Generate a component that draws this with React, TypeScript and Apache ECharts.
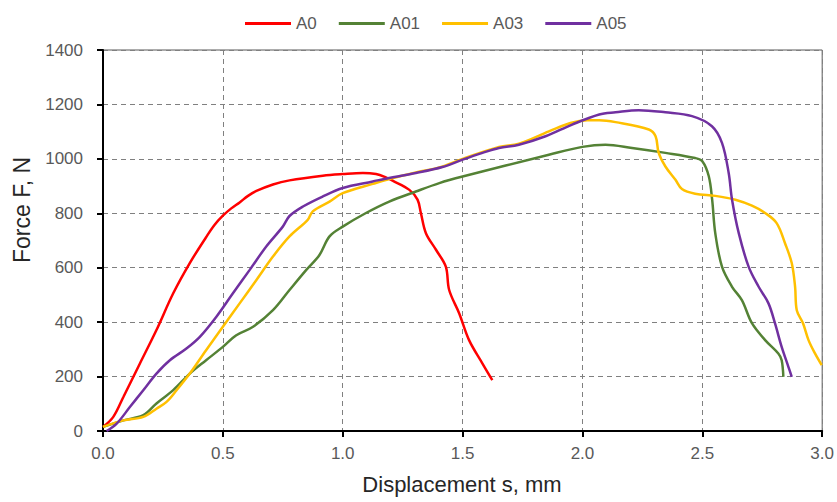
import React, { useEffect, useRef } from "react";
import * as echarts from "echarts";

const seriesNames = ["A0", "A01", "A03", "A05"];
const seriesColors = ["#FF0000", "#548235", "#FFC000", "#7030A0"];

const a0X = [0, 0.043, 0.085, 0.154, 0.223, 0.293, 0.362, 0.43, 0.465, 0.5, 0.535, 0.57, 0.605, 0.64, 0.709, 0.778, 0.917, 1.0, 1.084, 1.139, 1.18, 1.208, 1.278, 1.312, 1.326, 1.347, 1.389, 1.43, 1.444, 1.486, 1.527, 1.583, 1.624];
const a0F = [15, 52, 125, 248, 371, 506, 617, 712, 757, 791, 818, 840, 864, 882, 906, 921, 938, 944, 948, 944, 932, 920, 886, 850, 801, 727, 666, 604, 518, 432, 334, 248, 187];

const a01X = [0, 0.085, 0.168, 0.223, 0.293, 0.362, 0.43, 0.5, 0.556, 0.626, 0.709, 0.778, 0.848, 0.903, 0.945, 1.0, 1.097, 1.194, 1.305, 1.403, 1.5, 1.86, 2.0, 2.096, 2.207, 2.346, 2.47, 2.5, 2.527, 2.541, 2.554, 2.582, 2.624, 2.665, 2.707, 2.762, 2.817, 2.831, 2.838];
const a01F = [15, 39, 58, 101, 150, 211, 260, 309, 352, 383, 444, 518, 592, 647, 715, 751, 801, 843, 880, 911, 935, 1015, 1044, 1052, 1040, 1022, 1003, 991, 936, 850, 727, 604, 530, 481, 396, 334, 285, 260, 199];

const a03X = [0, 0.085, 0.168, 0.223, 0.265, 0.307, 0.362, 0.43, 0.5, 0.57, 0.64, 0.709, 0.778, 0.854, 0.875, 0.945, 1.0, 1.125, 1.194, 1.305, 1.403, 1.5, 1.652, 1.735, 1.86, 1.95, 2.02, 2.07, 2.138, 2.277, 2.305, 2.318, 2.346, 2.388, 2.415, 2.47, 2.554, 2.638, 2.707, 2.762, 2.81, 2.845, 2.873, 2.887, 2.894, 2.92, 2.943, 2.97, 2.998];
const a03F = [15, 39, 52, 82, 107, 150, 211, 297, 383, 469, 555, 641, 715, 776, 807, 843, 874, 908, 926, 950, 968, 1000, 1044, 1056, 1101, 1132, 1142, 1142, 1135, 1108, 1083, 1022, 972, 923, 889, 872, 864, 850, 828, 801, 764, 690, 617, 530, 444, 396, 334, 285, 242];

const a05X = [0.015, 0.057, 0.112, 0.168, 0.223, 0.279, 0.348, 0.404, 0.473, 0.542, 0.612, 0.681, 0.75, 0.778, 0.834, 0.917, 1.0, 1.125, 1.194, 1.305, 1.416, 1.5, 1.583, 1.652, 1.735, 1.846, 1.957, 2.07, 2.138, 2.235, 2.346, 2.457, 2.54, 2.582, 2.61, 2.624, 2.652, 2.693, 2.735, 2.776, 2.803, 2.831, 2.859, 2.873];
const a05F = [0, 27, 88, 150, 211, 260, 303, 346, 420, 506, 592, 678, 751, 790, 825, 862, 893, 917, 930, 948, 970, 997, 1022, 1040, 1052, 1083, 1126, 1163, 1171, 1179, 1171, 1157, 1120, 1059, 948, 850, 727, 604, 530, 469, 396, 309, 236, 199];

const xTicks = [0, 0.5, 1.0, 1.5, 2.0, 2.5, 3.0];
const yTicks = [0, 200, 400, 600, 800, 1000, 1200, 1400];
const xTitle = "Displacement s, mm";
const yTitle = "Force F, N";

const FONT = "'Liberation Sans', Arial, sans-serif";

function pairs(xs: number[], ys: number[]) {
  return xs.map((x, i) => [x, ys[i]]);
}

export default function App() {
  const ref = useRef<HTMLDivElement>(null);
  useEffect(() => {
    if (!ref.current) return;
    const chart = echarts.init(ref.current, undefined, { renderer: "svg" });
    const allX = [a0X, a01X, a03X, a05X];
    const allF = [a0F, a01F, a03F, a05F];
    chart.setOption({
      animation: false,
      textStyle: { fontFamily: FONT },
      legend: {
        left: 240,
        top: 10,
        icon: "rect",
        itemWidth: 46,
        itemHeight: 3,
        itemGap: 22,
        textStyle: { fontSize: 17, color: "#595959", fontFamily: FONT },
        data: seriesNames,
      },
      grid: {
        left: 103,
        right: 13,
        top: 50,
        bottom: 71,
        show: true,
        borderColor: "#595959",
        borderWidth: 1,
        containLabel: false,
      },
      xAxis: {
        type: "value",
        min: xTicks[0],
        max: xTicks[xTicks.length - 1],
        interval: 0.5,
        axisLine: { show: true, onZero: false, lineStyle: { color: "#000", width: 2 } },
        axisTick: { show: true, inside: false, length: 6, lineStyle: { color: "#000", width: 2 } },
        axisLabel: {
          margin: 14,
          fontSize: 17,
          color: "#595959",
          fontFamily: FONT,
          formatter: (v: number) => v.toFixed(1),
        },
        splitLine: { show: true, lineStyle: { color: "#808080", type: [5, 4], width: 1 } },
      },
      yAxis: {
        type: "value",
        min: yTicks[0],
        max: yTicks[yTicks.length - 1],
        interval: 200,
        axisLine: { show: true, onZero: false, lineStyle: { color: "#000", width: 2 } },
        axisTick: { show: true, inside: false, length: 6, lineStyle: { color: "#000", width: 2 } },
        axisLabel: {
          margin: 20,
          fontSize: 17,
          color: "#595959",
          fontFamily: FONT,
          formatter: (v: number) => String(v),
        },
        splitLine: { show: true, lineStyle: { color: "#808080", type: [5, 4], width: 1 } },
      },
      graphic: [
        {
          type: "text",
          x: 462,
          y: 484,
          style: {
            text: xTitle,
            font: `22px ${FONT}`,
            fill: "#262626",
            textAlign: "center",
            textVerticalAlign: "middle",
          },
        },
        {
          type: "text",
          x: 22,
          y: 210,
          rotation: Math.PI / 2,
          style: {
            text: yTitle,
            font: `23px ${FONT}`,
            fill: "#262626",
            textAlign: "center",
            textVerticalAlign: "middle",
          },
        },
      ],
      series: seriesNames.map((name, i) => ({
        name,
        type: "line",
        data: pairs(allX[i], allF[i]),
        showSymbol: false,
        symbol: "none",
        smooth: 0.35,
        lineStyle: { color: seriesColors[i], width: 2.5 },
        itemStyle: { color: seriesColors[i] },
        z: 3,
      })),
    });
    return () => chart.dispose();
  }, []);
  return <div ref={ref} style={{ width: 837, height: 502, position: "absolute", left: 0, top: 0 }} />;
}
